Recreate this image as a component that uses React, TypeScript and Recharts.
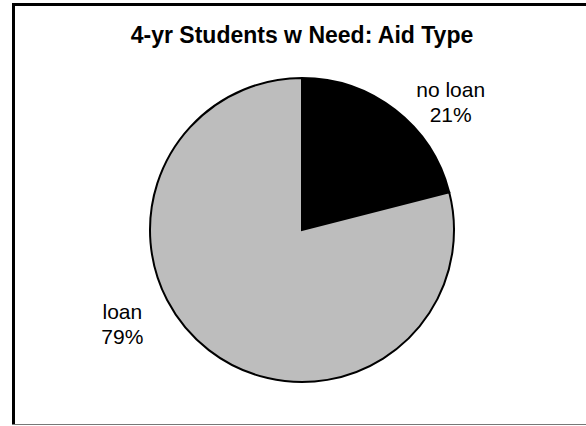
import React from "react"
import { PieChart, Pie, Cell } from "recharts"

const categories = ["no loan", "loan"]
const shares = [21, 79]
const sliceColors = ["#000000", "#bdbdbd"]

const data = categories.map((name, i) => ({ name, value: shares[i] }))

const RAD = Math.PI / 180
// nudge from the default outside spot to where the labels sit in the original
const labelNudge = [
  { dx: 31, dy: 19 },
  { dx: -62, dy: -63 },
]

const renderLabel = (props: any) => {
  const { cx, cy, midAngle, outerRadius, index, name, value } = props
  const r = outerRadius + 40
  const x = cx + r * Math.cos(-midAngle * RAD) + labelNudge[index].dx
  const y = cy + r * Math.sin(-midAngle * RAD) + labelNudge[index].dy
  return (
    <text
      x={x}
      y={y}
      textAnchor="middle"
      fill="#000"
      fontSize={21}
      fontFamily="'Liberation Sans', Arial, sans-serif"
    >
      <tspan x={x} y={y}>{name}</tspan>
      <tspan x={x} y={y + 25}>{value}%</tspan>
    </text>
  )
}

export default function App() {
  return (
    <div style={{ position: "absolute", left: 0, top: 0, width: 586, height: 426, background: "#fff" }}>
      <div style={{ position: "absolute", left: 12, top: 3, width: 3, height: 422, background: "#000" }} />
      <div style={{ position: "absolute", left: 12, top: 3, width: 574, height: 3, background: "#000" }} />
      <div style={{ position: "absolute", left: 12, top: 424, width: 574, height: 1, background: "#777" }} />
      <div
        style={{
          position: "absolute",
          left: 0,
          top: 22,
          width: 604,
          textAlign: "center",
          fontFamily: "'Liberation Sans', Arial, sans-serif",
          fontWeight: "bold",
          fontSize: 23,
          lineHeight: "27px",
        }}
      >
        4-yr Students w Need: Aid Type
      </div>
      <div style={{ position: "absolute", left: 0, top: 0 }}>
        <PieChart width={586} height={426} margin={{ top: 0, right: 0, bottom: 0, left: 0 }}>
          <Pie
            data={data}
            dataKey="value"
            nameKey="name"
            cx={302}
            cy={230}
            outerRadius={152}
            startAngle={90}
            endAngle={-270}
            stroke="#000"
            strokeWidth={2}
            label={renderLabel}
            labelLine={false}
            isAnimationActive={false}
          >
            {data.map((d, i) => (
              <Cell key={d.name} fill={sliceColors[i]} />
            ))}
          </Pie>
        </PieChart>
      </div>
    </div>
  )
}
